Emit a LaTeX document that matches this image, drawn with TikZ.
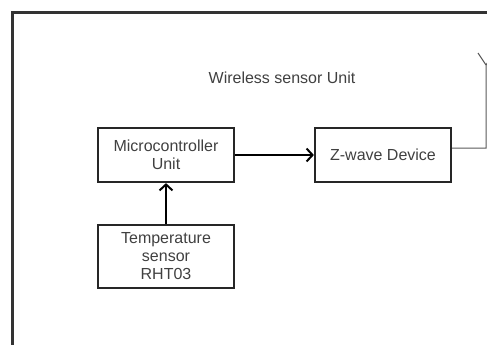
\documentclass[tikz,border=0pt]{standalone}
\usepackage{fontspec}
\setmainfont{Liberation Sans}
\usetikzlibrary{arrows.meta}
\begin{document}
\begin{tikzpicture}[x=1pt,y=-1pt,
		block/.style={draw=black!85,line width=2.2pt,minimum width=136pt,minimum height=54pt,
			inner sep=0pt,align=center,text=black!75,font=\fontsize{16}{18}\selectfont},
		link/.style={line width=2.2pt,-{Straight Barb[length=6pt,width=13pt,line width=2pt]}},
		feed/.style={black!65,line width=1pt}]
			\useasboundingbox (0,0) rectangle (487,345);
			\draw[line width=2.6pt,black!80] (12.5,345) -- (12.5,12.5) -- (487,12.5);
			\node[text=black!75,font=\fontsize{16}{18}\selectfont] (title) at (282,78) {Wireless sensor Unit};
			\node[block] (mcu) at (166,155) {Microcontroller\\Unit};
			\node[block] (zwave) at (383,155) {Z-wave Device};
			\node[block,minimum height=63pt] (temp) at (166,256.5) {Temperature\\sensor\\RHT03};
			\draw[link] (mcu) -- (zwave);
			\draw[link] (temp) -- (mcu);
			%Antenne
			\coordinate (mast) at (486,65);
			\draw[feed] ([yshift=7pt]zwave.east) -| (mast) -- (478,53);
			\draw[feed] (mast) -- (494,53);
		\end{tikzpicture}
\end{document}
